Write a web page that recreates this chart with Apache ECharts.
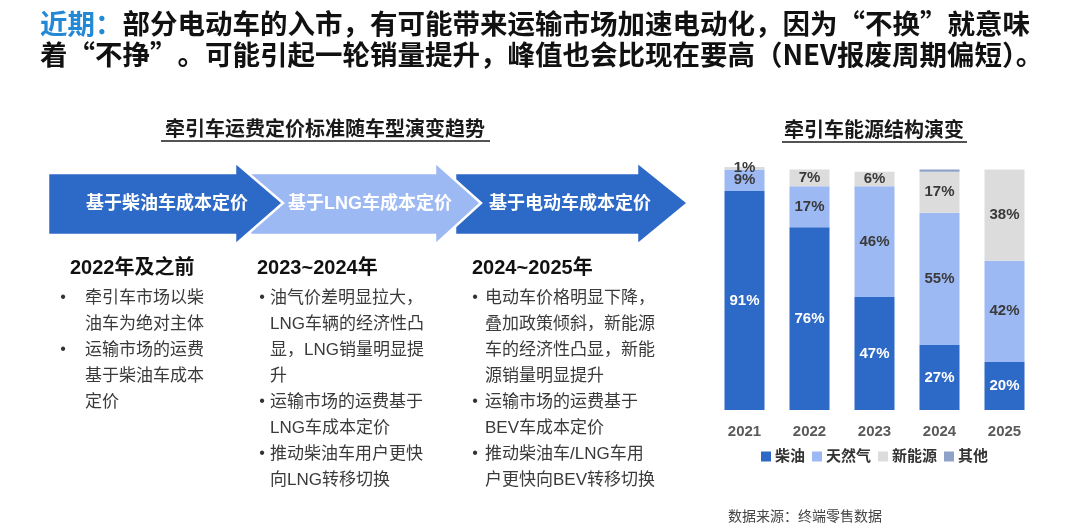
<!DOCTYPE html>
<html>
<head>
<meta charset="utf-8">
<script src="https://cdn.jsdelivr.net/npm/echarts@6/dist/echarts.min.js"></script>
<style>
html,body{margin:0;padding:0;background:#fff;}
#chart{width:1080px;height:525px;}
</style>
</head>
<body>
<div id="chart"></div>
<script>
// ---- data ----
const categories = ['2021', '2022', '2023', '2024', '2025'];
const seriesNames = ['柴油', '天然气', '新能源', '其他'];
const diesel = [91, 76, 47, 27, 20];
const gas = [9, 17, 46, 55, 42];
const nev = [1, 7, 6, 17, 38];
const other = [0, 0, 0, 1, 0];

const headline1 = '部分电动车的入市，有可能带来运输市场加速电动化，因为“不换”就意味';
const headline2 = '着“不挣”。可能引起一轮销量提升，峰值也会比现在要高（NEV报废周期偏短）。';
const headlineLead = '近期：';
const leftTitle = '牵引车运费定价标准随车型演变趋势';
const rightTitle = '牵引车能源结构演变';
const arrowLabels = ['基于柴油车成本定价', '基于LNG车成本定价', '基于电动车成本定价'];
const columnHeaders = ['2022年及之前', '2023~2024年', '2024~2025年'];
const col1Bullets = [['牵引车市场以柴', '油车为绝对主体'], ['运输市场的运费', '基于柴油车成本', '定价']];
const col2Bullets = [['油气价差明显拉大，', 'LNG车辆的经济性凸', '显，LNG销量明显提', '升'], ['运输市场的运费基于', 'LNG车成本定价'], ['推动柴油车用户更快', '向LNG转移切换']];
const col3Bullets = [['电动车价格明显下降，', '叠加政策倾斜，新能源', '车的经济性凸显，新能', '源销量明显提升'], ['运输市场的运费基于', 'BEV车成本定价'], ['推动柴油车/LNG车用', '户更快向BEV转移切换']];
const sourceNote = '数据来源：终端零售数据';

// ---- styles ----
const FONT = '"Liberation Sans", "Noto Sans CJK SC", sans-serif';
const CJK_FONT = '"Noto Sans CJK SC", sans-serif';
const DARK_BLUE = '#2D69C6';
const LIGHT_BLUE = '#9DB9F4';
const GREY = '#DCDCDC';
const OTHER = '#8EA2C9';
const colors = [DARK_BLUE, LIGHT_BLUE, GREY, OTHER];

const chart = echarts.init(document.getElementById('chart'), null, {renderer: 'canvas'});

const graphics = [];

// headline
graphics.push({
  type: 'text', x: 40, y: 24,
  style: {
    text: '{b|' + headlineLead + '}' + headline1,
    font: 'bold 27.5px ' + CJK_FONT, fill: '#111', textVerticalAlign: 'middle',
    rich: { b: { fill: '#2389D4', font: 'bold 27.5px ' + CJK_FONT } }
  }
});
graphics.push({
  type: 'text', x: 40, y: 55,
  style: { text: headline2, font: 'bold 27.5px ' + CJK_FONT, fill: '#111', textVerticalAlign: 'middle' }
});

// subtitles with underline
function underlinedTitle(txt, cx, cy, x1, x2) {
  graphics.push({
    type: 'text', x: cx, y: cy,
    style: { text: txt, font: 'bold 20px ' + FONT, fill: '#1a1a1a', textAlign: 'center', textVerticalAlign: 'middle' }
  });
  graphics.push({
    type: 'line', shape: { x1: x1, y1: cy + 11, x2: x2, y2: cy + 11 },
    style: { stroke: '#1a1a1a', lineWidth: 1.5 }
  });
}
underlinedTitle(leftTitle, 325, 130, 161, 490);
underlinedTitle(rightTitle, 874, 131, 782, 967);

// arrows (drawn back to front)
function arrowPts(x0, xb, xt) {
  return [[x0, 173], [xb, 173], [xb, 162], [xt, 203], [xb, 245], [xb, 235], [x0, 235]];
}
const arrowShapes = [
  { pts: arrowPts(48, 235, 283), fill: DARK_BLUE, cx: 167, z: 30 },
  { pts: arrowPts(250, 435, 481), fill: LIGHT_BLUE, cx: 370, z: 20 },
  { pts: arrowPts(455, 637, 688), fill: DARK_BLUE, cx: 570, z: 10 }
];
arrowShapes.forEach(function (a, i) {
  graphics.push({
    type: 'polygon', z: a.z,
    shape: { points: a.pts },
    style: { fill: a.fill, stroke: '#fff', lineWidth: 2.5 }
  });
  graphics.push({
    type: 'text', z: a.z + 1, x: a.cx, y: 204,
    style: { text: arrowLabels[i], font: 'bold 18px ' + FONT, fill: '#fff', textAlign: 'center', textVerticalAlign: 'middle' }
  });
});

// columns of bullet text
const columns = [
  { hx: 70, bx: 63, tx: 85, bullets: col1Bullets },
  { hx: 257, bx: 262, tx: 270, bullets: col2Bullets },
  { hx: 472, bx: 475, tx: 485, bullets: col3Bullets }
];
columns.forEach(function (c, ci) {
  graphics.push({
    type: 'text', x: c.hx, y: 268,
    style: { text: columnHeaders[ci], font: 'bold 20px ' + FONT, fill: '#111', textVerticalAlign: 'middle' }
  });
  let lineIdx = 0;
  c.bullets.forEach(function (b) {
    b.forEach(function (line, li) {
      const y = 298 + lineIdx * 26;
      if (li === 0) {
        graphics.push({
          type: 'text', x: c.bx, y: y,
          style: { text: '•', font: '16px ' + FONT, fill: '#333', textAlign: 'center', textVerticalAlign: 'middle' }
        });
      }
      graphics.push({
        type: 'text', x: c.tx, y: y,
        style: { text: line, font: '17px ' + FONT, fill: '#3a3a3a', textVerticalAlign: 'middle' }
      });
      lineIdx++;
    });
  });
});

// source note
graphics.push({
  type: 'text', x: 728, y: 517,
  style: { text: sourceNote, font: '14px ' + FONT, fill: '#444', textVerticalAlign: 'middle' }
});

const seriesData = [diesel, gas, nev, other];
const labelColors = ['#fff', '#3a3a3a', '#3a3a3a', '#3a3a3a'];
const labelShown = [true, true, true, false];

const series = seriesNames.map(function (name, i) {
  return {
    name: name,
    type: 'bar',
    stack: 'total',
    barWidth: 40,
    clip: true,
    itemStyle: { color: colors[i] },
    label: {
      show: labelShown[i],
      position: i === 2 ? 'insideTop' : 'inside',
      distance: 4,
      color: labelColors[i],
      fontFamily: FONT,
      fontWeight: 'bold',
      fontSize: 15,
      formatter: function (p) { return p.value > 0 ? p.value + '%' : ''; }
    },
    data: seriesData[i]
  };
});
// NEV labels: centred in their segment (the 2021 sliver sits at the bar top)
series[2].label.position = 'inside';

chart.setOption({
  animation: false,
  backgroundColor: '#fff',
  color: colors,
  grid: { left: 712, right: 43, top: 167, bottom: 115, containLabel: false },
  xAxis: {
    type: 'category',
    data: categories,
    axisLine: { show: false },
    axisTick: { show: false },
    axisLabel: { color: '#5a5a5a', fontFamily: FONT, fontWeight: 'bold', fontSize: 15, margin: 14 }
  },
  yAxis: {
    type: 'value', min: 0, max: 101,
    show: false
  },
  legend: {
    data: seriesNames,
    left: 756, top: 444,
    icon: 'rect',
    itemWidth: 10, itemHeight: 10,
    itemGap: 7,
    textStyle: { color: '#333', fontFamily: FONT, fontWeight: 'bold', fontSize: 15, padding: [0, 0, 0, -1] }
  },
  graphic: graphics,
  series: series
});
</script>
</body>
</html>
